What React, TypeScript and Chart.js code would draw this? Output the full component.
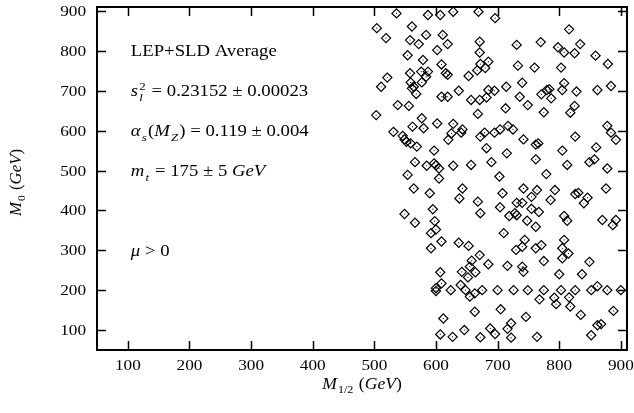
import React, { useEffect, useRef } from 'react';
import { Chart, registerables } from 'chart.js';
Chart.register(...registerables);

// M_1/2 (GeV) values of scanned points
const m12Values = [
  536, 587, 607, 628, 669, 696,
  504, 519, 561, 584, 611, 558, 572, 619, 602, 671, 671, 731, 770, 816, 798, 808, 825, 834, 859, 879,
  554, 579, 609, 576, 587, 558, 616, 619, 667, 685, 680, 672, 653, 733, 760, 803,
  521, 511, 559, 564, 577, 584, 568, 561, 637, 609, 619,
  714, 740, 736, 749, 685, 671, 682, 695, 657,
  771, 780, 784, 787, 775, 808, 805, 828, 862, 884,
  825, 818, 713, 668, 556, 538, 503,
  577, 562, 580, 602, 628, 643, 625, 641,
  717, 725, 704, 695, 679, 672,
  531, 546, 549, 552, 559, 569,
  620, 742, 766, 762, 826, 878, 884, 892,
  682, 597, 805, 860,
  715, 566, 585, 597, 600, 605, 628, 657, 690, 762, 813, 849, 857, 878,
  779, 703, 554, 605,
  564, 590, 643, 708, 742, 764, 793, 876, 755,
  638, 668, 731, 740, 786, 826, 831, 846, 840,
  595, 704, 755, 728, 731, 719, 672, 549, 767, 808, 813,
  566, 598, 748, 762, 870, 892, 887,
  600, 592, 710,
  609, 637, 653, 592, 744, 740, 730, 762, 771, 808, 805,
  671, 805, 815, 775, 849,
  716, 685, 658, 655, 642, 607, 652, 664, 740, 742, 837, 800,
  600, 600, 609, 624, 640, 648, 655, 663, 675, 700, 726, 749, 775, 803, 826, 852, 878, 900,
  862, 768, 792, 795, 816, 818,
  663, 705, 746, 835, 888, 612,
  646, 688, 716, 722, 607, 627, 672, 696, 722, 764, 852, 862, 868,
];

// M_0 (GeV) values of scanned points
const m0Values = [
  894, 890, 890, 898, 898, 882,
  857, 832, 861, 840, 840, 827, 817, 817, 802, 823, 796, 815, 822, 854, 809, 796, 794, 817, 788, 767,
  789, 777, 766, 748, 748, 744, 744, 740, 751, 773, 757, 767, 737, 763, 758, 758,
  733, 710, 721, 710, 721, 735, 692, 706, 700, 685, 685,
  710, 720, 685, 664, 702, 677, 683, 700, 677,
  691, 702, 704, 681, 646, 719, 702, 698, 702, 712,
  662, 645, 656, 642, 662, 664, 639,
  631, 610, 606, 618, 617, 603, 593, 595,
  612, 603, 603, 595, 595, 585,
  597, 587, 578, 572, 568, 560,
  577, 578, 568, 565, 585, 612, 595, 577,
  556, 550, 550, 558,
  543, 521, 512, 518, 513, 505, 512, 514, 521, 528, 514, 521, 528, 505,
  491, 485, 489, 480,
  455, 443, 455, 443, 455, 451, 451, 455, 434,
  430, 422, 419, 419, 426, 441, 444, 432, 418,
  403, 408, 404, 393, 388, 386, 393, 391, 396, 386, 374,
  369, 373, 374, 359, 376, 376, 363,
  352, 343, 343,
  322, 319, 311, 305, 326, 309, 301, 305, 313, 326, 305,
  288, 280, 292, 273, 271,
  261, 265, 274, 259, 246, 245, 232, 245, 259, 246, 240, 240,
  205, 198, 217, 200, 213, 200, 184, 192, 200, 200, 200, 200, 200, 200, 200, 200, 200, 200,
  210, 177, 181, 165, 182, 159,
  146, 152, 133, 138, 148, 129,
  100, 104, 103, 117, 89, 83, 82, 90, 81, 83, 87, 112, 115,
];

const xTickValues = [100, 200, 300, 400, 500, 600, 700, 800, 900];
const yTickValues = [100, 200, 300, 400, 500, 600, 700, 800, 900];

type Seg = { t: string; it?: boolean; sub?: string; sup?: string };

const annotationLines: { y: number; segs: Seg[] }[] = [
  { y: 800, segs: [{ t: 'LEP+SLD Average' }] },
  { y: 700, segs: [{ t: 's', it: true, sup: '2', sub: 'l' }, { t: ' = 0.23152 ± 0.00023' }] },
  { y: 600, segs: [{ t: 'α', it: true, sub: 's' }, { t: '(' }, { t: 'M', it: true, sub: 'Z' }, { t: ') = 0.119 ± 0.004' }] },
  { y: 500, segs: [{ t: 'm', it: true, sub: 't' }, { t: ' = 175 ± 5 ' }, { t: 'GeV', it: true }] },
  { y: 300, segs: [{ t: 'μ', it: true }, { t: ' > 0' }] },
];
const annotationX = 100;

const FAMILY = '"Liberation Serif", "DejaVu Serif", serif';

function font(size: number, italic?: boolean) {
  return `${italic ? 'italic ' : ''}${size}px ${FAMILY}`;
}

function richWidth(ctx: CanvasRenderingContext2D, segs: Seg[], size: number) {
  let cx = 0;
  for (const s of segs) {
    ctx.font = font(size, s.it);
    cx += ctx.measureText(s.t).width;
    let w = 0;
    const small = Math.round(size * 0.7);
    for (const t of [s.sup, s.sub]) {
      if (t) {
        ctx.font = font(small, /[a-zA-Z]/.test(t));
        w = Math.max(w, ctx.measureText(t).width);
      }
    }
    if (w > 0) cx += w + 2;
  }
  return cx;
}

function drawRich(ctx: CanvasRenderingContext2D, segs: Seg[], x: number, baseline: number, size: number, stretch: number) {
  ctx.save();
  ctx.translate(x, baseline);
  ctx.scale(stretch, 1);
  ctx.textBaseline = 'alphabetic';
  ctx.textAlign = 'left';
  ctx.fillStyle = '#000';
  let cx = 0;
  for (const s of segs) {
    ctx.font = font(size, s.it);
    ctx.fillText(s.t, cx, 0);
    cx += ctx.measureText(s.t).width;
    let w = 0;
    const small = Math.round(size * 0.7);
    if (s.sup) {
      ctx.font = font(small, /[a-zA-Z]/.test(s.sup));
      ctx.fillText(s.sup, cx + 1, -size * 0.42);
      w = Math.max(w, ctx.measureText(s.sup).width);
    }
    if (s.sub) {
      ctx.font = font(small, /[a-zA-Z]/.test(s.sub));
      ctx.fillText(s.sub, cx + 1, size * 0.28);
      w = Math.max(w, ctx.measureText(s.sub).width);
    }
    if (w > 0) cx += w + 2;
  }
  ctx.restore();
}

const TICK_SIZE = 15;
const TICK_STRETCH = 1.15;

const framePlugin = {
  id: 'frameAndText',
  afterDraw(chart: any) {
    const ctx: CanvasRenderingContext2D = chart.ctx;
    const { left, right, top, bottom } = chart.chartArea;
    const xs = chart.scales.x;
    const ys = chart.scales.y;
    ctx.save();
    ctx.strokeStyle = '#000';
    ctx.lineWidth = 2;
    ctx.strokeRect(left, top, right - left, bottom - top);
    ctx.lineWidth = 1.5;
    const tl = 9;
    ctx.beginPath();
    for (const v of xTickValues) {
      const px = Math.round(xs.getPixelForValue(v)) + 0.5;
      ctx.moveTo(px, bottom);
      ctx.lineTo(px, bottom - tl);
      ctx.moveTo(px, top);
      ctx.lineTo(px, top + tl);
    }
    for (const v of yTickValues) {
      const py = Math.round(ys.getPixelForValue(v)) + 0.5;
      ctx.moveTo(left, py);
      ctx.lineTo(left + tl, py);
      ctx.moveTo(right, py);
      ctx.lineTo(right - tl, py);
    }
    ctx.stroke();

    // tick labels
    ctx.font = font(TICK_SIZE);
    for (const v of xTickValues) {
      const s = String(v);
      ctx.font = font(TICK_SIZE);
      const w = ctx.measureText(s).width * TICK_STRETCH;
      drawRich(ctx, [{ t: s }], xs.getPixelForValue(v) - w / 2, bottom + 20, TICK_SIZE, TICK_STRETCH);
    }
    for (const v of yTickValues) {
      const s = String(v);
      ctx.font = font(TICK_SIZE);
      const w = ctx.measureText(s).width * TICK_STRETCH;
      drawRich(ctx, [{ t: s }], left - 11 - w, ys.getPixelForValue(v) + 5, TICK_SIZE, TICK_STRETCH);
    }

    // annotations
    for (const line of annotationLines) {
      const px = xs.getPixelForValue(annotationX) + 3;
      const py = ys.getPixelForValue(line.y);
      drawRich(ctx, line.segs, px, py + 5.5, 16, 1.17);
    }

    // x title: M_{1/2} (GeV)
    const xTitle: Seg[] = [{ t: 'M', it: true, sub: '1/2' }, { t: ' (' }, { t: 'GeV', it: true }, { t: ')' }];
    const xw = richWidth(ctx, xTitle, 16) * 1.1;
    drawRich(ctx, xTitle, (left + right) / 2 - xw / 2, 389, 16, 1.1);

    // y title: M_0 (GeV)
    const yTitle: Seg[] = [{ t: 'M', it: true, sub: '0' }, { t: ' (' }, { t: 'GeV', it: true }, { t: ')' }];
    const yw = richWidth(ctx, yTitle, 16) * 1.05;
    ctx.save();
    ctx.translate(21, (top + bottom) / 2 + 4);
    ctx.rotate(-Math.PI / 2);
    drawRich(ctx, yTitle, -yw / 2, 0, 16, 1.05);
    ctx.restore();
    ctx.restore();
  },
};

export default function App() {
  const ref = useRef<HTMLCanvasElement | null>(null);
  useEffect(() => {
    if (!ref.current) return;
    const pts = m12Values.map((x, i) => ({ x, y: m0Values[i] }));
    const chart = new Chart(ref.current, {
      type: 'scatter',
      data: {
        datasets: [
          {
            data: pts,
            pointStyle: 'rectRot',
            pointRadius: 4.6,
            borderColor: '#000',
            borderWidth: 1.2,
            backgroundColor: 'rgba(255,255,255,0)',
          },
          {
            data: pts,
            pointStyle: 'circle',
            pointRadius: 0.6,
            borderWidth: 0,
            backgroundColor: '#000',
          },
        ],
      },
      options: {
        animation: false,
        responsive: true,
        maintainAspectRatio: false,
        layout: { padding: { top: 7, right: 7, left: 0, bottom: 0 } },
        plugins: { legend: { display: false }, tooltip: { enabled: false } },
        scales: {
          x: {
            type: 'linear',
            min: 50,
            max: 910,
            grid: { display: false, drawTicks: false },
            border: { display: false },
            ticks: { display: false },
            afterBuildTicks: (s: any) => {
              s.ticks = xTickValues.map((v) => ({ value: v }));
            },
            afterFit: (s: any) => {
              s.height = 63;
              s.paddingLeft = 0;
              s.paddingRight = 0;
            },
          },
          y: {
            type: 'linear',
            min: 50,
            max: 910,
            grid: { display: false, drawTicks: false },
            border: { display: false },
            ticks: { display: false },
            afterBuildTicks: (s: any) => {
              s.ticks = yTickValues.map((v) => ({ value: v }));
            },
            afterFit: (s: any) => {
              s.width = 97;
              s.paddingTop = 0;
              s.paddingBottom = 0;
            },
          },
        },
      },
      plugins: [framePlugin],
    } as any);
    return () => chart.destroy();
  }, []);
  return (
    <div style={{ position: 'fixed', left: 0, top: 0, width: 634, height: 413, background: '#fff' }}>
      <canvas ref={ref} />
    </div>
  );
}
